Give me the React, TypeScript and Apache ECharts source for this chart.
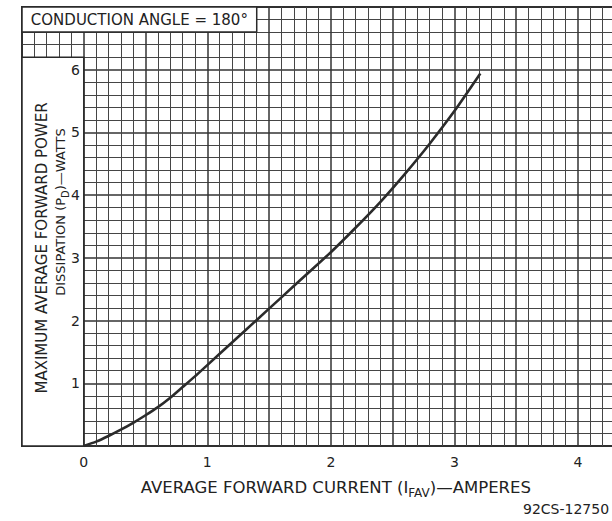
import React, { useEffect, useRef } from 'react';
import * as echarts from 'echarts';

// Average forward current (A) vs. maximum average forward power dissipation (W)
const currentA = [0, 0.1, 0.2, 0.3, 0.4, 0.5, 0.6, 0.7, 0.8, 0.9, 1.0, 1.2, 1.4, 1.6, 1.8, 2.0, 2.2, 2.4, 2.6, 2.8, 3.0, 3.21];
const powerW = [0, 0.07, 0.16, 0.26, 0.37, 0.49, 0.62, 0.77, 0.94, 1.11, 1.29, 1.65, 2.01, 2.37, 2.73, 3.09, 3.48, 3.89, 4.34, 4.82, 5.34, 5.94];

const xTickLabels = ['0', '1', '2', '3', '4'];
const yTickLabels = ['1', '2', '3', '4', '5', '6'];

const chartTitle = 'CONDUCTION ANGLE = 180°';
const xTitle = '{a|AVERAGE FORWARD CURRENT (I}{s|FAV}{a|)—AMPERES}';
const yTitle1 = 'MAXIMUM AVERAGE FORWARD POWER';
const yTitle2 = '{a|DISSIPATION (P}{s|D}{a|)—WATTS}';
const figureCode = '92CS-12750';

// label box (left) and title box (top-left), in data coordinates
const labelBox = [[-0.5, 0], [0, 6.2]];
const titleBox = [[-0.5, 6.6], [1.4, 7]];

const FONT = '"DejaVu Sans", Verdana, sans-serif';
const INK = '#222';

const yBase = { type: 'value', position: 'left', min: 0, max: 7, interval: 1 };

export default function App() {
  const ref = useRef<HTMLDivElement>(null);

  useEffect(() => {
    if (!ref.current) return;
    const chart = echarts.init(ref.current, undefined, { renderer: 'svg' });
    const data = currentA.map((x, i) => [x, powerW[i]]);

    const option: any = {
      animation: false,
      backgroundColor: '#fff',
      title: {
        text: figureCode,
        left: 523,
        top: 502,
        padding: 0,
        textStyle: { fontFamily: FONT, fontSize: 14, fontWeight: 'normal', color: INK },
      },
      grid: {
        left: 22,
        top: 7,
        width: 617.7,
        height: 439,
        outerBoundsMode: 'none',
        containLabel: false,
        show: true,
        borderColor: '#2a2a2a',
        borderWidth: 2,
        backgroundColor: 'transparent',
      },
      xAxis: {
        type: 'value',
        min: -0.5,
        max: 4.5,
        interval: 0.5,
        name: xTitle,
        nameLocation: 'middle',
        nameGap: 29,
        nameMoveOverlap: false,
        nameTextStyle: {
          fontFamily: FONT,
          color: INK,
          padding: [0, 0, 0, 10],
          rich: {
            a: { fontFamily: FONT, fontSize: 16.5, lineHeight: 24, color: INK, verticalAlign: 'middle' },
            s: { fontFamily: FONT, fontSize: 12, lineHeight: 12, color: INK, verticalAlign: 'bottom' },
          },
        },
        axisLine: { show: false, onZero: false },
        axisTick: { show: false },
        axisLabel: {
          margin: 9,
          fontFamily: FONT,
          fontSize: 14,
          color: INK,
          formatter: (v: number) => {
            const r = Math.round(v);
            return Math.abs(v - r) < 1e-6 && r >= 0 && r < xTickLabels.length ? xTickLabels[r] : '';
          },
        },
        splitLine: { show: true, lineStyle: { color: '#333', width: 1.5 } },
        minorTick: { show: false, splitNumber: 5 },
        minorSplitLine: { show: true, lineStyle: { color: '#454545', width: 1 } },
      },
      yAxis: [
        {
          // grid lines (under the white boxes)
          ...yBase,
          z: 0,
          axisLine: { show: false, onZero: false },
          axisTick: { show: false },
          axisLabel: { show: false },
          splitLine: { show: true, lineStyle: { color: '#333', width: 1.5 } },
          minorTick: { show: false, splitNumber: 5 },
          minorSplitLine: { show: true, lineStyle: { color: '#454545', width: 1 } },
        },
        {
          // tick labels and second title line (above the white boxes)
          ...yBase,
          z: 10,
          name: yTitle2,
          nameLocation: 'middle',
          nameRotate: 90,
          nameGap: -48,
          nameMoveOverlap: false,
          nameTextStyle: {
            fontFamily: FONT,
            color: INK,
            padding: [0, 0, 0, 29],
            rich: {
              a: { fontFamily: FONT, fontSize: 13, lineHeight: 20, color: INK, verticalAlign: 'middle' },
              s: { fontFamily: FONT, fontSize: 10, lineHeight: 10, color: INK, verticalAlign: 'bottom' },
            },
          },
          axisLine: { show: false, onZero: false },
          axisTick: { show: false },
          axisLabel: {
            margin: -58,
            fontFamily: FONT,
            fontSize: 14,
            color: INK,
            formatter: (v: number) => {
              const r = Math.round(v);
              return r >= 1 && r <= yTickLabels.length ? yTickLabels[r - 1] : '';
            },
          },
          splitLine: { show: false },
        },
        {
          // first title line
          ...yBase,
          z: 10,
          name: yTitle1,
          nameLocation: 'middle',
          nameRotate: 90,
          nameGap: -29,
          nameMoveOverlap: false,
          nameTextStyle: {
            fontFamily: FONT,
            fontSize: 15,
            lineHeight: 18,
            color: INK,
            padding: [0, 43, 0, 0],
          },
          axisLine: { show: false, onZero: false },
          axisTick: { show: false },
          axisLabel: { show: false },
          splitLine: { show: false },
        },
      ],
      series: [
        {
          type: 'line',
          xAxisIndex: 0,
          yAxisIndex: 0,
          data,
          smooth: 0.2,
          symbol: 'none',
          z: 3,
          lineStyle: { color: '#2b2b2b', width: 2.6 },
          silent: true,
          markArea: {
            silent: true,
            itemStyle: { color: '#fff', borderColor: '#2a2a2a', borderWidth: 1.5, opacity: 1 },
            label: {
              show: true,
              position: 'inside',
              fontFamily: FONT,
              fontSize: 15,
              color: INK,
            },
            data: [
              [
                { coord: labelBox[0], label: { show: false } },
                { coord: labelBox[1] },
              ],
              [
                { name: chartTitle, coord: titleBox[0] },
                { coord: titleBox[1] },
              ],
            ],
          },
        },
      ],
    };

    chart.setOption(option);
    return () => chart.dispose();
  }, []);

  return (
    <div
      ref={ref}
      style={{ position: 'fixed', left: 0, top: 0, width: 612, height: 521, background: '#fff' }}
    />
  );
}
